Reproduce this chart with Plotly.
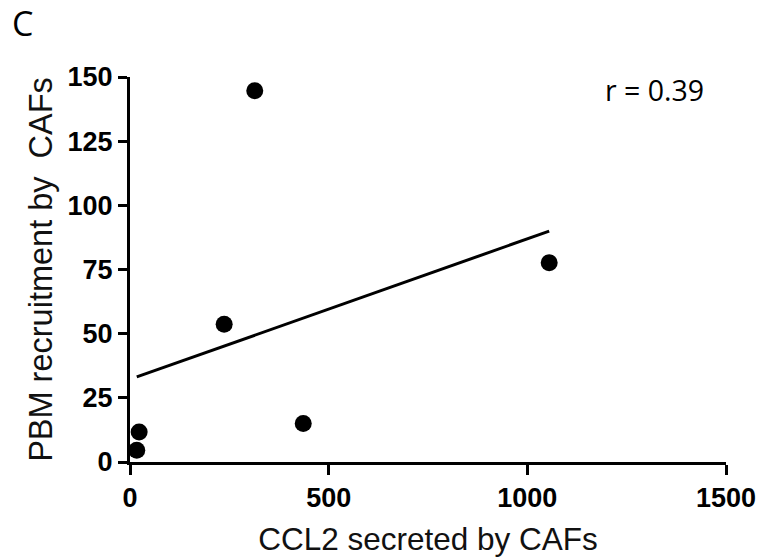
import numpy as np
import plotly.graph_objects as go

# Data
ccl2 = [17, 23, 237, 314, 436, 1055]            # CCL2 secreted by CAFs
pbm = [4.6, 11.7, 53.7, 144.6, 15.0, 77.6]      # PBM recruitment by CAFs
x_ticks = [0, 500, 1000, 1500]
y_ticks = [0, 25, 50, 75, 100, 125, 150]
r_label = "r = 0.39"
panel_label = "C"

# Linear regression line derived from the data
slope, intercept = np.polyfit(ccl2, pbm, 1)
fit_x = [min(ccl2), max(ccl2)]
fit_y = [slope * v + intercept for v in fit_x]

fig = go.Figure()
fig.add_trace(go.Scatter(
    x=fit_x, y=fit_y, mode="lines",
    line=dict(color="black", width=3),
    cliponaxis=False, showlegend=False, hoverinfo="skip"))
fig.add_trace(go.Scatter(
    x=ccl2, y=pbm, mode="markers",
    marker=dict(color="black", size=17, line=dict(width=0)),
    cliponaxis=False, showlegend=False))

tickfont = dict(family="Liberation Sans, Arial", size=27, color="black", weight="bold")
titlefont = dict(family="Liberation Sans, Arial", size=31.5, color="#111")

L, R, T, B = 130, 36, 77, 96
PW, PH = 762 - L - R, 558 - T - B

fig.update_layout(
    width=762, height=558,
    paper_bgcolor="white", plot_bgcolor="white",
    margin=dict(l=L, r=R, t=T, b=B),
    xaxis=dict(range=[0, 1500], tickvals=x_ticks, ticktext=[str(v) for v in x_ticks],
               showgrid=False, zeroline=False, showline=True, linecolor="black", linewidth=3,
               ticks="outside", ticklen=10, tickwidth=3, tickcolor="black",
               tickfont=tickfont, automargin=False,
               title=dict(text="CCL2 secreted by CAFs", font=titlefont, standoff=16)),
    yaxis=dict(range=[0, 150], tickvals=y_ticks, ticktext=[str(v) for v in y_ticks],
               showgrid=False, zeroline=False, showline=True, linecolor="black", linewidth=3,
               ticks="outside", ticklen=9, tickwidth=3, tickcolor="black",
               tickfont=tickfont, automargin=False,
               title=dict(text="PBM recruitment by\u00a0\u00a0CAFs",
                          font=dict(family="Liberation Sans, Arial", size=32.5, color="#111"),
                          standoff=6)),
    annotations=[
        dict(text=r_label, xref="paper", yref="paper", x=(654 - L) / PW, y=(558 - B - 90) / PH,
             xanchor="center", yanchor="middle", showarrow=False,
             font=dict(family="Open Sans", size=28.5, color="black")),
        dict(text=panel_label, xref="paper", yref="paper", x=(10 - L) / PW, y=(558 - B - 23) / PH,
             xanchor="left", yanchor="middle", showarrow=False,
             font=dict(family="Open Sans", size=34, color="black")),
    ],
)

fig.write_html("out.html", config={"displayModeBar": False},
               post_script="document.body.style.margin='0';document.body.style.overflow='hidden';")
